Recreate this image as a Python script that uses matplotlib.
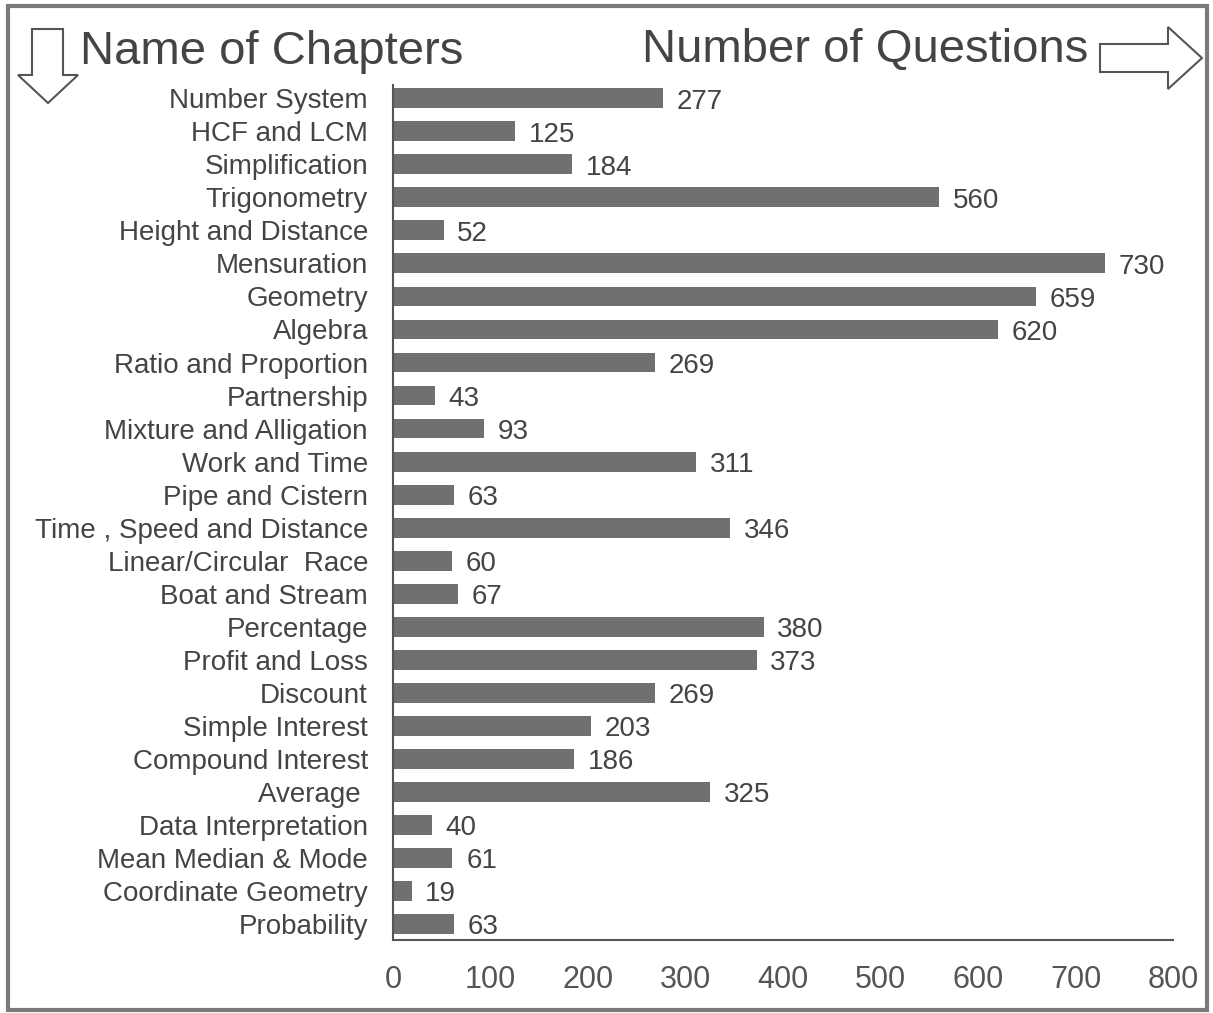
import numpy as np
import matplotlib.pyplot as plt
from matplotlib.patches import Polygon, Rectangle

chapters = ['Number System', 'HCF and LCM', 'Simplification', 'Trigonometry',
            'Height and Distance', 'Mensuration', 'Geometry', 'Algebra',
            'Ratio and Proportion', 'Partnership', 'Mixture and Alligation',
            'Work and Time', 'Pipe and Cistern', 'Time , Speed and Distance',
            'Linear/Circular  Race', 'Boat and Stream', 'Percentage',
            'Profit and Loss', 'Discount', 'Simple Interest', 'Compound Interest',
            'Average ', 'Data Interpretation', 'Mean Median & Mode',
            'Coordinate Geometry', 'Probability']
questions = [277, 125, 184, 560, 52, 730, 659, 620, 269, 43, 93, 311, 63, 346,
             60, 67, 380, 373, 269, 203, 186, 325, 40, 61, 19, 63]
xticks = [0, 100, 200, 300, 400, 500, 600, 700, 800]

W, H = 1213, 1013
txt = '#444444'
bar_col = '#707070'
plt.rcParams['font.family'] = ['Liberation Sans', 'DejaVu Sans']

fig = plt.figure(figsize=(W / 100, H / 100), dpi=100)
ax = fig.add_axes([393 / W, 73 / H, 780 / W, 855 / H])

y = np.arange(len(chapters))[::-1]
ax.barh(y, questions, height=0.6, color=bar_col)
for yi, v in zip(y, questions):
    ax.text(v + 14, yi - 0.1, str(v), va='center', ha='left', fontsize=20, color=txt)

ax.set_xlim(0, 800)
ax.set_ylim(-0.48, 25.4)
ax.set_yticks(y)
ax.set_yticklabels(chapters, fontsize=20, color=txt)
ax.set_xticks(xticks)
ax.set_xticklabels([str(t) for t in xticks], fontsize=22, color='#555555')
ax.tick_params(axis='both', length=0)
ax.tick_params(axis='x', pad=18)
ax.tick_params(axis='y', pad=18)
for s in ['top', 'right']:
    ax.spines[s].set_visible(False)
ax.spines['left'].set_color('#555555')
ax.spines['bottom'].set_color('#555555')
ax.spines['left'].set_linewidth(1.5)
ax.spines['bottom'].set_linewidth(1.5)

# outer frame
fig.patches.append(Rectangle((8 / W, 3 / H), (W - 14) / W, (H - 9) / H,
                             transform=fig.transFigure, fill=False,
                             edgecolor='#7a7a7a', linewidth=3))

fig.text(80 / W, 1 - 52 / H, 'Name of Chapters', fontsize=34, color=txt,
         va='center', ha='left')
fig.text(1088 / W, 1 - 50 / H, 'Number of Questions', fontsize=34, color=txt,
         va='center', ha='right')

# down arrow (outline)
down = [(32, 29), (63, 29), (63, 75), (78, 75), (48, 103), (18, 75), (32, 75)]
fig.patches.append(Polygon([(px / W, 1 - py / H) for px, py in down], closed=True,
                           transform=fig.transFigure, fill=False,
                           edgecolor='#555555', linewidth=1.5))
# right arrow (outline)
right = [(1100, 44), (1168, 44), (1168, 27), (1202, 58), (1168, 89), (1168, 72), (1100, 72)]
fig.patches.append(Polygon([(px / W, 1 - py / H) for px, py in right], closed=True,
                           transform=fig.transFigure, fill=False,
                           edgecolor='#555555', linewidth=1.5))

fig.savefig('out.png', dpi=100, facecolor='white')
